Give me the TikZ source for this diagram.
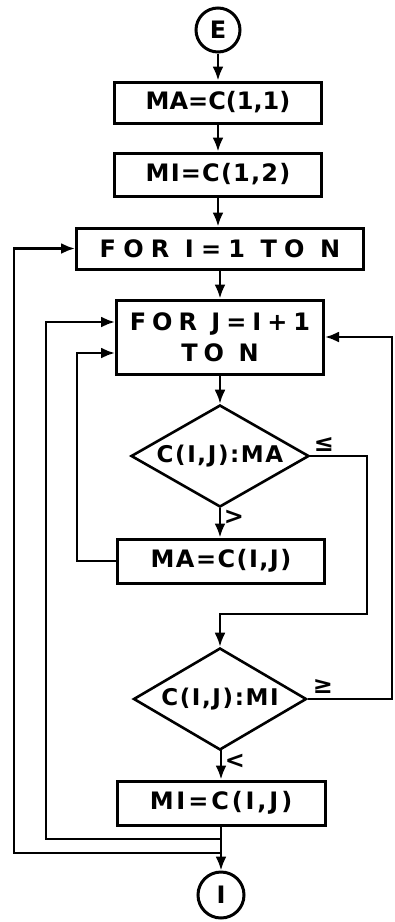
\documentclass[tikz,border=0pt]{standalone}
\usepackage{fontspec}
\setmainfont{DejaVu Sans}
\usetikzlibrary{shapes.geometric,arrows.meta,calc}
\newcommand{\lsp}[1]{\bfseries\addfontfeatures{LetterSpace=#1}}
\begin{document}
\begin{tikzpicture}[x=1pt,y=-1pt,
  conn/.style={line width=2.5pt,-{Latex[length=14pt,width=11pt]}},
  boxnode/.style={draw,rectangle,line width=3pt,inner sep=0pt,align=center,font=\fontsize{24}{31}\selectfont},
  dnode/.style={draw,diamond,aspect=1.75,line width=2.6pt,inner sep=0pt,font=\fontsize{23}{25}\selectfont},
  conode/.style={draw,circle,line width=3pt,minimum size=44pt,inner sep=0pt,font=\fontsize{24}{25}\selectfont\bfseries},
  lab/.style={inner sep=0pt,font=\fontsize{24}{24}\selectfont\bfseries}]
\useasboundingbox (0,0) rectangle (394,922);
\node[conode] (E) at (218,30) {E};
\node[boxnode,minimum width=207pt,minimum height=41pt] (ma) at (218,102.5) {\lsp{0}MA=C(1,1)};
\node[boxnode,minimum width=207pt,minimum height=43pt] (mi) at (218,174.5) {\lsp{5}MI=C(1,2)};
\node[boxnode,minimum width=287pt,minimum height=41pt] (fori) at (220,248.5) {\lsp{30}FOR I=1 TO N};
\node[boxnode,minimum width=207pt,minimum height=74pt] (forj) at (220,337) {\lsp{25}FOR J=I+1\\\lsp{25}TO N};
\node[dnode,minimum width=178pt,minimum height=102pt] (d1) at (220,456) {\lsp{7}C(I,J):MA};
\node[boxnode,minimum width=207pt,minimum height=44pt] (maij) at (221,561) {\lsp{6}MA=C(I,J)};
\node[dnode,minimum width=173pt,minimum height=102pt] (d2) at (220,699) {\lsp{7}C(I,J):MI};
\node[boxnode,minimum width=208pt,minimum height=44pt] (miij) at (221,803) {\lsp{12}MI=C(I,J)};
\node[conode,minimum size=46pt] (I) at (221,895) {I};
% labels
\node[lab] (le) at (324,445) {≤};
\node[lab] (ge) at (323,687) {≥};
\node[lab] (gt) at (234,517) {>};
\node[lab] (lt) at (235,761) {<};
% coordinates
\coordinate (r1) at (367,614);
\coordinate (rr) at (392,0);
\coordinate (l2) at (77,353);
\coordinate (l1) at (46,322);
\coordinate (l0) at (14,248.5);
\coordinate (j1) at (221,839);
\coordinate (j2) at (221,853);
% straight arrows
\draw[conn] (E) -- (ma);
\draw[conn] (ma) -- (mi);
\draw[conn] (mi.south) -- (mi.south |- fori.north);
\draw[conn] (fori) -- (forj);
\draw[conn] (forj) -- (d1);
\draw[conn] (d1.south) -- (d1.south |- maij.north);
\draw[conn] (d2.south) -- (d2.south -| miij.north) -- (miij.north);
\draw[conn] (miij) -- (I);
% loops
\draw[conn] (d1.east) -| (r1) -| (d2.north);
\draw[conn] (maij.west) -| (l2) -- (l2 -| forj.west);
\draw[conn] (d2.east) -| (rr |- forj.east) -- (forj.east);
\draw[conn] (j1) -| (l1) -- (l1 -| forj.west);
\draw[conn] (j2) -| (l0) -- (fori.west);
\end{tikzpicture}
\end{document}
